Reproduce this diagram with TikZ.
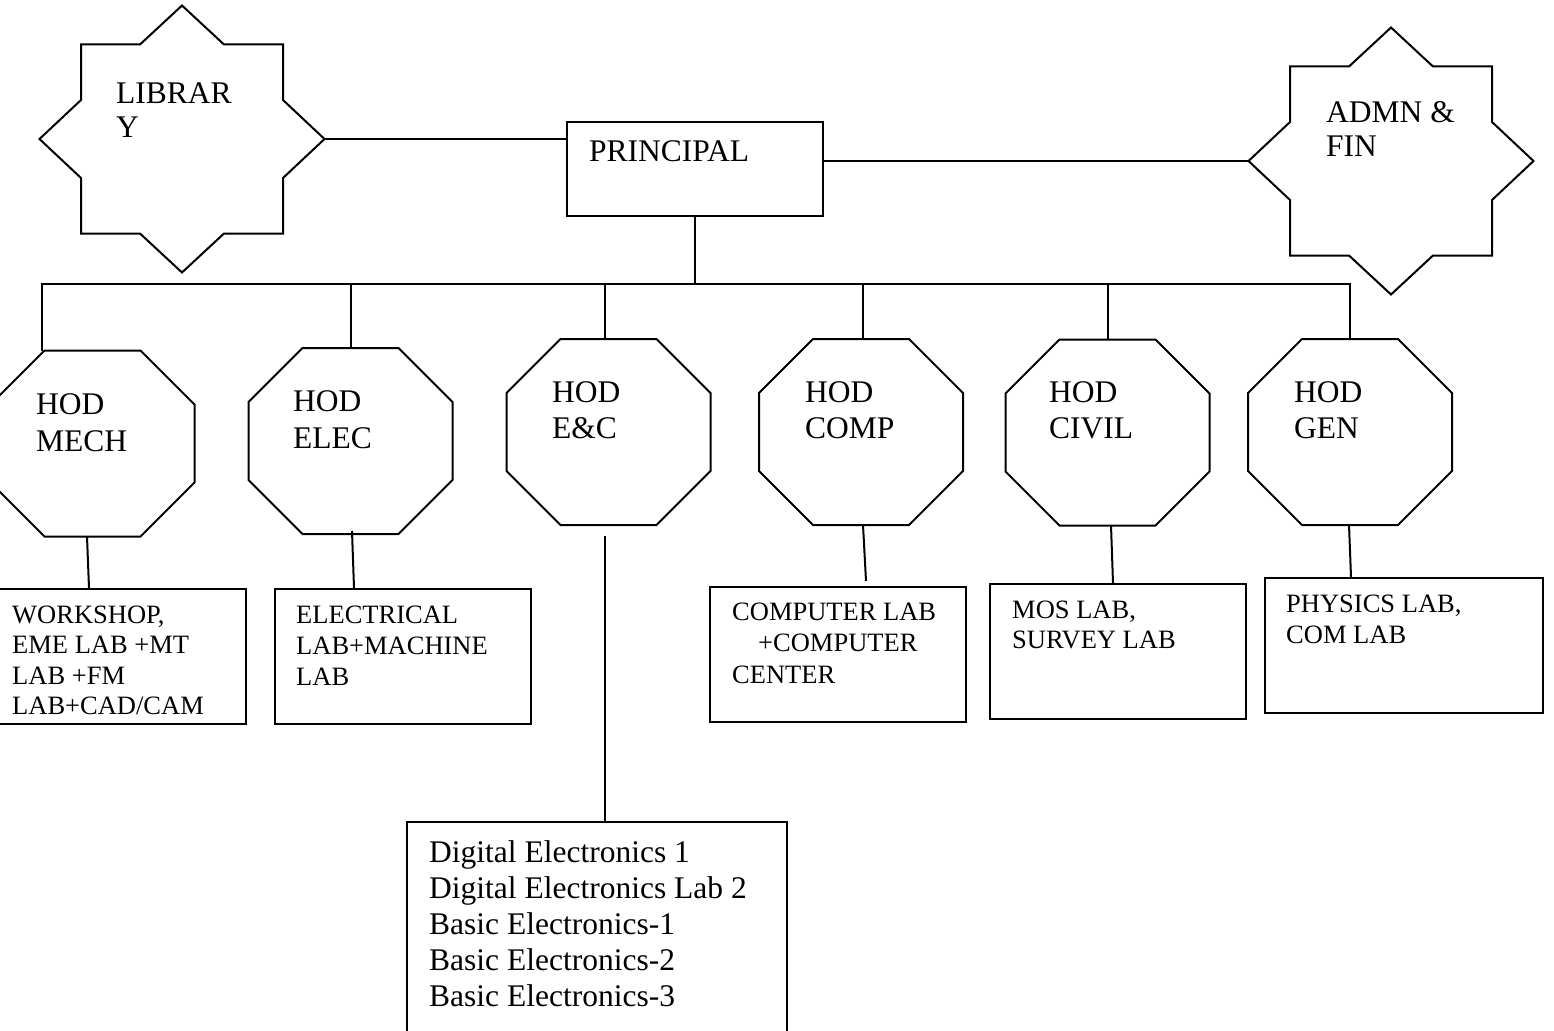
\documentclass[tikz,border=0pt]{standalone}
\usepackage{fontspec}
\setmainfont{Liberation Serif}
\usetikzlibrary{calc}
\newcommand\stack[2]{\vtop{\baselineskip=#1\relax\lineskiplimit=-100pt\halign{##\hfil\cr#2\crcr}}}
\tikzset{
  ln/.style={line width=2pt},
  shp/.style={line width=2pt, line join=miter},
  big/.style={font=\fontsize{31.5}{36}\selectfont, inner sep=0pt, anchor=base west},
  small/.style={font=\fontsize{26.5}{31}\selectfont, inner sep=0pt, anchor=base west},
  box/.style={draw, line width=2pt, inner sep=0pt},
  frame/.style={inner sep=0pt, outer sep=0pt}
}
\newcommand\octnode[3]{%
  \node[frame, minimum width=204pt, minimum height=186pt] (#1) at (#2,#3) {};
  \draw[shp] ($(#1.center)+(-48,-93)$) -- ++(96,0) -- ++(54,54) -- ++(0,78) -- ++(-54,54)
    -- ++(-96,0) -- ++(-54,-54) -- ++(0,-78) -- cycle;
}
\newcommand\starnode[3]{%
  \node[frame, minimum width=285pt, minimum height=267pt] (#1) at (#2,#3) {};
  \draw[shp] (#2,#3) ++(-101,-94.5) -- ++(59,0) -- ++(42,-39) -- ++(42,39) -- ++(59,0)
    -- ++(0,55.5) -- ++(41.5,39) -- ++(-41.5,39) -- ++(0,55.5) -- ++(-59,0) -- ++(-42,39)
    -- ++(-42,-39) -- ++(-59,0) -- ++(0,-55.5) -- ++(-41.5,-39) -- ++(41.5,-39) -- cycle;
}
\begin{document}
\begin{tikzpicture}[x=1pt, y=-1pt]
\useasboundingbox (0,0) rectangle (1554,1030);
\clip (0,0) rectangle (1554,1030);

% top level
\starnode{lib}{182}{139}
\starnode{admn}{1391}{161}
\node[box, minimum width=256pt, minimum height=94pt] (prin) at (695,169) {};

\node[big] (libT) at (116,103) {\stack{35pt}{LIBRAR\cr Y}};
\node[big] (prinT) at (589,161) {PRINCIPAL};
\node[big] (admnT) at (1326,122) {\stack{35pt}{ADMN \&\cr FIN}};

% HOD octagons
\octnode{mech}{92.5}{443.5}
\octnode{elec}{350.5}{441}
\octnode{ec}{608.5}{432}
\octnode{comp}{861}{432}
\octnode{civil}{1107.5}{432.5}
\octnode{gen}{1350}{432}

\node[big] (mechT) at (36,414) {\stack{37pt}{HOD\cr MECH}};
\node[big] (elecT) at (293,411) {\stack{37pt}{HOD\cr ELEC}};
\node[big] (ecT) at (552,402) {\stack{36pt}{HOD\cr E\&C}};
\node[big] (compT) at (805,402) {\stack{36pt}{HOD\cr COMP}};
\node[big] (civilT) at (1049,402) {\stack{36pt}{HOD\cr CIVIL}};
\node[big] (genT) at (1294,402) {\stack{36pt}{HOD\cr GEN}};

% lab boxes
\node[box, minimum width=256pt, minimum height=135pt] (ws) at (118,656.5) {};
\node[box, minimum width=256pt, minimum height=135pt] (el) at (403,656.5) {};
\node[box, minimum width=256pt, minimum height=135pt] (cl) at (838,654.5) {};
\node[box, minimum width=256pt, minimum height=135pt] (mos) at (1118,651.5) {};
\node[box, minimum width=278pt, minimum height=135pt] (phy) at (1404,645.5) {};
\node[box, minimum width=380pt, minimum height=223pt] (dig) at (597,933.5) {};

\node[small] (wsT) at (12,623) {\stack{30.5pt}{WORKSHOP,\cr EME LAB +MT\cr LAB +FM\cr LAB+CAD/CAM}};
\node[small] (elT) at (296,623) {\stack{31pt}{ELECTRICAL\cr LAB+MACHINE\cr LAB}};
\node[small] (clT) at (732,620) {\stack{31.5pt}{COMPUTER LAB\cr \hspace{26pt}+COMPUTER\cr CENTER}};
\node[small] (mosT) at (1012,618) {\stack{30pt}{MOS LAB,\cr SURVEY LAB}};
\node[small] (phyT) at (1286,612) {\stack{31pt}{PHYSICS LAB,\cr COM LAB}};
\node[big] (digT) at (429,862) {\stack{36pt}{Digital Electronics 1\cr Digital Electronics Lab 2\cr Basic Electronics-1\cr Basic Electronics-2\cr Basic Electronics-3}};

% connectors
\coordinate (barL) at (42,284);
\draw[ln] (lib.east) -- (lib.east -| prin.west);
\draw[ln] (admn.west -| prin.east) -- (admn.west);
\draw[ln] (prin.south) -- (prin.south |- barL);
\draw[ln] (barL |- mech.north) -- (barL) -- (gen.north |- barL) -- (gen.north);
\draw[ln] (elec.north |- barL) -- (elec.north);
\draw[ln] ($(ec.north)+(-3.5,0)$) coordinate (ecn) -- (ecn |- barL);
\draw[ln] ($(comp.north)+(2,0)$) coordinate (cpn) -- (cpn |- barL);
\draw[ln] (civil.north |- barL) -- (civil.north);

\draw[ln] ($(mech.south)+(-5.5,0)$) -- ($(ws.north)+(-29,0)$);
\draw[ln] ($(elec.south)+(1.5,-3)$) -- ($(el.north)+(-49,0)$);
\draw[ln] ($(ec.south)+(-3.5,11)$) coordinate (ecs) -- (ecs |- dig.north);
\draw[ln] ($(comp.south)+(2,0)$) -- ($(cl.north)+(28,-5)$);
\draw[ln] ($(civil.south)+(3.5,0)$) -- ($(mos.north)+(-5,0)$);
\draw[ln] ($(gen.south)+(-1,0)$) -- ($(phy.north)+(-53,0)$);
\end{tikzpicture}
\end{document}
